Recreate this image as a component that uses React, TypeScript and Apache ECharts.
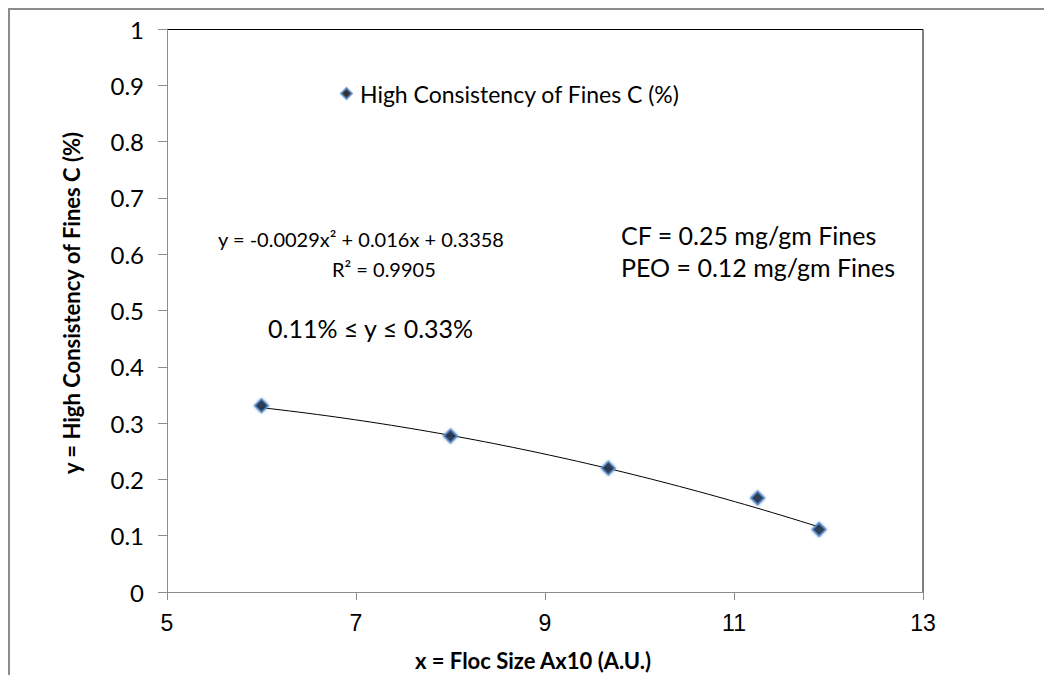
import React, { useEffect, useRef } from "react";
import * as echarts from "echarts";

const seriesName = "High Consistency of Fines C (%)";
const flocSize = [6.0, 8.0, 9.67, 11.25, 11.9];
const consistency = [0.331, 0.277, 0.22, 0.167, 0.111];
// Trendline as printed on the chart: y = a x^2 + b x + c
const trendCoef = [-0.0029, 0.016, 0.3358];
const trendRange = [6.0, 11.9];
const xTicks = [5, 7, 9, 11, 13];
const yTicks = [0, 0.1, 0.2, 0.3, 0.4, 0.5, 0.6, 0.7, 0.8, 0.9, 1];
const xTitle = "x = Floc Size Ax10 (A.U.)";
const yTitle = "y = High Consistency of Fines C (%)";
const equationText = "y = -0.0029x² + 0.016x + 0.3358";
const r2Text = "R² = 0.9905";
const rangeText = "0.11% ≤ y ≤ 0.33%";
const doseTexts = ["CF = 0.25 mg/gm Fines", "PEO = 0.12 mg/gm Fines"];

const FONT = "Lato, 'Open Sans', sans-serif";

export default function App() {
  const ref = useRef<HTMLDivElement>(null);
  useEffect(() => {
    if (!ref.current) return;
    const chart = echarts.init(ref.current, null, { renderer: "svg" });
    const trend: number[][] = [];
    const steps = 60;
    for (let i = 0; i <= steps; i++) {
      const x = trendRange[0] + ((trendRange[1] - trendRange[0]) * i) / steps;
      trend.push([x, trendCoef[0] * x * x + trendCoef[1] * x + trendCoef[2]]);
    }
    chart.setOption({
      animation: false,
      backgroundColor: "#ffffff",
      grid: { left: 167, top: 29, width: 756, height: 563, show: false },
      legend: {
        data: [{ name: seriesName, icon: "diamond" }],
        left: 335,
        top: 77,
        itemWidth: 11,
        itemHeight: 11,
        itemGap: 4,
        textStyle: { fontFamily: FONT, fontSize: 23, color: "#000", padding: [0, 0, 0, 3] },
      },
      xAxis: {
        type: "value",
        min: 5,
        max: 13,
        interval: 2,
        axisLine: { show: true, onZero: false, lineStyle: { color: "#8c8c8c", width: 1 } },
        axisTick: { show: true, length: 8, lineStyle: { color: "#8c8c8c" } },
        axisLabel: {
          margin: 19,
          fontFamily: "'Liberation Sans', Arial, sans-serif",
          fontSize: 23,
          color: "#000",
          formatter: (v: number) => {
            const t = xTicks.find((x) => Math.abs(x - v) < 1e-6);
            return t === undefined ? "" : String(t);
          },
        },
        splitLine: { show: false },
      },
      yAxis: {
        type: "value",
        min: 0,
        max: 1,
        interval: 0.1,
        axisLine: { show: true, onZero: false, lineStyle: { color: "#8c8c8c", width: 1 } },
        axisTick: { show: true, length: 9, lineStyle: { color: "#8c8c8c" } },
        axisLabel: {
          margin: 23,
          fontFamily: FONT,
          fontSize: 24,
          color: "#000",
          formatter: (v: number) => {
            const t = yTicks.find((y) => Math.abs(y - v) < 1e-6);
            return t === undefined ? "" : String(Number(t.toFixed(1)));
          },
        },
        splitLine: { show: false },
      },
      graphic: [
        {
          type: "rect",
          shape: { x: 9, y: 9, width: 1100, height: 700 },
          style: { fill: "none", stroke: "#8c8c8c", lineWidth: 2 },
          silent: true,
          z: -10,
        },
        {
          type: "polyline",
          shape: { points: [[167, 29.5], [923, 29.5], [923, 592]] },
          style: { fill: "none", stroke: "#000", lineWidth: 1 },
          silent: true,
        },
        {
          type: "text",
          x: 533,
          y: 660,
          style: {
            text: xTitle,
            fontFamily: FONT,
            fontSize: 22,
            fontWeight: "bold",
            fill: "#000",
            align: "center",
            verticalAlign: "middle",
          },
        },
        {
          type: "text",
          x: 71,
          y: 303,
          rotation: Math.PI / 2,
          style: {
            text: yTitle,
            fontFamily: FONT,
            fontSize: 22,
            fontWeight: "bold",
            fill: "#000",
            align: "center",
            verticalAlign: "middle",
          },
        },
        {
          type: "text",
          left: 218,
          top: 229,
          style: { text: equationText, fontFamily: FONT, fontSize: 20, fill: "#000" },
        },
        {
          type: "text",
          left: 332,
          top: 259,
          style: { text: r2Text, fontFamily: FONT, fontSize: 20, fill: "#000" },
        },
        {
          type: "text",
          left: 268,
          top: 315,
          style: { text: rangeText, fontFamily: FONT, fontSize: 25, fill: "#000" },
        },
        {
          type: "text",
          left: 621,
          top: 222,
          style: { text: doseTexts[0], fontFamily: FONT, fontSize: 25, fill: "#000" },
        },
        {
          type: "text",
          left: 621,
          top: 254,
          style: { text: doseTexts[1], fontFamily: FONT, fontSize: 25, fill: "#000" },
        },
      ],
      series: [
        {
          name: "trend",
          type: "line",
          data: trend,
          showSymbol: false,
          smooth: false,
          lineStyle: { color: "#000", width: 1 },
          silent: true,
          z: 2,
        },
        {
          name: seriesName,
          type: "scatter",
          data: flocSize.map((x, i) => [x, consistency[i]]),
          symbol: "diamond",
          symbolSize: 13,
          itemStyle: {
            color: "#000",
            borderColor: "#5b8fd0",
            borderWidth: 2,
            shadowBlur: 3,
            shadowColor: "rgba(79,129,189,0.8)",
          },
          z: 3,
        },
      ],
    });
    return () => chart.dispose();
  }, []);
  return <div ref={ref} style={{ width: 1044, height: 675, position: "absolute", left: 0, top: 0 }} />;
}
